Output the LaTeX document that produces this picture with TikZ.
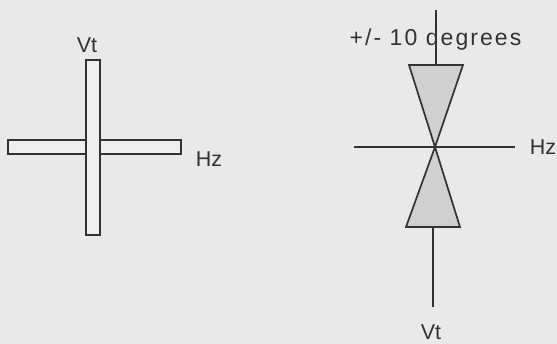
\documentclass[tikz,border=0pt]{standalone}
\usepackage{fontspec}
\setmainfont{Liberation Sans}
\newfontfamily\degfont[LetterSpace=9]{Liberation Sans}
\definecolor{bg}{RGB}{233,233,233}
\definecolor{ink}{RGB}{50,50,50}
\definecolor{cone}{RGB}{208,208,208}
\definecolor{barfill}{RGB}{238,238,238}
\begin{document}
\begin{tikzpicture}[x=1pt,y=1pt,
  outline/.style={draw=ink,line width=1.7pt,line join=miter},
  lbl/.style={text=ink,font=\fontsize{21.5}{24}\selectfont,inner sep=0pt,anchor=base}]
\fill[bg] (0,0) rectangle (557,344);
\useasboundingbox (0,0) rectangle (557,344);
% left cross
\draw[outline,fill=barfill] (8,190) rectangle (181,204);
\draw[outline,fill=barfill] (86,109) rectangle (100,284);
\node[lbl] (lvt) at (87,291) {Vt};
\node[lbl] (lhz) at (209,177) {Hz};
% right figure
\coordinate (top) at (436,334);
\coordinate (apex) at (435,197);
\coordinate (tl) at (409,279);
\coordinate (tr) at (463,279);
\coordinate (tm) at (436,279);
\coordinate (bl) at (406,117);
\coordinate (br) at (460,117);
\coordinate (bm) at (433,117);
\coordinate (bot) at (433,37);
\coordinate (hl) at (354,197);
\coordinate (hr) at (515,197);
\draw[outline,fill=cone] (tl) -- (tr) -- (apex) -- cycle;
\draw[outline,fill=cone] (bl) -- (br) -- (apex) -- cycle;
\draw[outline] (top) -- (tm);
\draw[outline] (bm) -- (bot);
\draw[outline] (hl) -- (hr);
\node[lbl,font=\degfont\fontsize{23}{26}\selectfont] (deg) at (435.5,298) {+/- 10 degrees};
\node[lbl] (rhz) at (543,189) {Hz};
\node[lbl] (rvt) at (431,4) {Vt};
\end{tikzpicture}
\end{document}
